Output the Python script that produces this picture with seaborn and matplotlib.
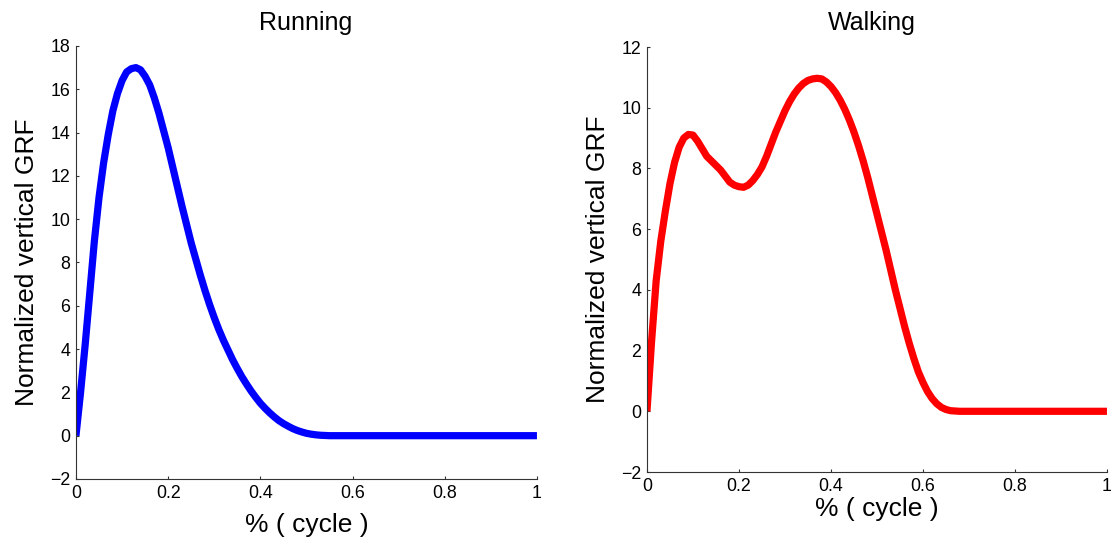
import matplotlib
matplotlib.use("Agg")
import matplotlib.pyplot as plt
import seaborn as sns
import pandas as pd

# Running curve (x = fraction of cycle, y = normalized vertical GRF)
run_x = [0.00, 0.01, 0.02, 0.03, 0.04, 0.05, 0.06, 0.07, 0.08, 0.09, 0.10,
         0.11, 0.12, 0.13, 0.14, 0.15, 0.16, 0.17, 0.18, 0.19, 0.20, 0.21,
         0.22, 0.23, 0.24, 0.25, 0.26, 0.27, 0.28, 0.29, 0.30, 0.31, 0.32,
         0.33, 0.34, 0.35, 0.36, 0.37, 0.38, 0.39, 0.40, 0.41, 0.42, 0.43,
         0.44, 0.45, 0.46, 0.47, 0.48, 0.49, 0.50, 0.51, 0.52, 0.53, 0.55,
         0.60, 0.70, 0.80, 0.90, 1.00]
run_y = [0.0, 2.0, 4.2, 6.6, 9.0, 11.0, 12.6, 13.9, 15.0, 15.8, 16.4,
         16.8, 16.95, 17.0, 16.9, 16.6, 16.2, 15.6, 14.9, 14.1, 13.3, 12.4,
         11.5, 10.6, 9.75, 8.9, 8.15, 7.4, 6.7, 6.05, 5.45, 4.9, 4.4,
         3.95, 3.5, 3.1, 2.72, 2.38, 2.06, 1.77, 1.5, 1.27, 1.06, 0.87,
         0.7, 0.56, 0.44, 0.33, 0.24, 0.17, 0.11, 0.07, 0.04, 0.02, 0.0,
         0.0, 0.0, 0.0, 0.0, 0.0]

# Walking curve
walk_x = [0.00, 0.01, 0.02, 0.03, 0.04, 0.05, 0.06, 0.07, 0.08, 0.09, 0.10,
          0.11, 0.12, 0.13, 0.14, 0.15, 0.16, 0.17, 0.18, 0.19, 0.20, 0.21,
          0.22, 0.23, 0.24, 0.25, 0.26, 0.27, 0.28, 0.29, 0.30, 0.31, 0.32,
          0.33, 0.34, 0.35, 0.36, 0.37, 0.38, 0.39, 0.40, 0.41, 0.42, 0.43,
          0.44, 0.45, 0.46, 0.47, 0.48, 0.49, 0.50, 0.51, 0.52, 0.53, 0.54,
          0.55, 0.56, 0.57, 0.58, 0.59, 0.60, 0.61, 0.62, 0.63, 0.64, 0.65,
          0.66, 0.68, 0.70, 0.80, 0.90, 1.00]
walk_y = [0.0, 2.3, 4.3, 5.6, 6.6, 7.5, 8.2, 8.7, 9.0, 9.12, 9.1,
          8.9, 8.65, 8.4, 8.25, 8.1, 7.95, 7.75, 7.55, 7.45, 7.4, 7.38,
          7.45, 7.6, 7.8, 8.05, 8.4, 8.8, 9.2, 9.55, 9.9, 10.2, 10.45,
          10.65, 10.8, 10.9, 10.95, 10.97, 10.95, 10.85, 10.7, 10.5, 10.25, 9.95,
          9.6, 9.2, 8.75, 8.25, 7.7, 7.1, 6.5, 5.9, 5.3, 4.65, 4.0,
          3.4, 2.8, 2.25, 1.75, 1.3, 0.95, 0.65, 0.42, 0.25, 0.13, 0.06,
          0.02, 0.0, 0.0, 0.0, 0.0, 0.0]

titles = ["Running", "Walking"]
x_ticks = [0, 0.2, 0.4, 0.6, 0.8, 1]
x_ticklabels = ["0", "0.2", "0.4", "0.6", "0.8", "1"]
run_yticks = [-2, 0, 2, 4, 6, 8, 10, 12, 14, 16, 18]
walk_yticks = [-2, 0, 2, 4, 6, 8, 10, 12]

sns.set_style("ticks")
plt.rcParams['font.family'] = ['Liberation Sans', 'DejaVu Sans']

fig = plt.figure(figsize=(11.17, 5.40), dpi=100)
ax1 = fig.add_axes([0.0680, 0.1130, 0.4127, 0.8019])
ax2 = fig.add_axes([0.5792, 0.1259, 0.4118, 0.7870])

df_run = pd.DataFrame({"x": run_x, "y": run_y})
df_walk = pd.DataFrame({"x": walk_x, "y": walk_y})

sns.lineplot(data=df_run, x="x", y="y", ax=ax1, color="#0000ff",
             linewidth=5.2, sort=False, estimator=None,
             solid_capstyle="butt", solid_joinstyle="round")
sns.lineplot(data=df_walk, x="x", y="y", ax=ax2, color="#ff0000",
             linewidth=5.2, sort=False, estimator=None,
             solid_capstyle="butt", solid_joinstyle="round")

settings = [(ax1, titles[0], run_yticks, 8, 11.5, 0.499),
            (ax2, titles[1], walk_yticks, 2, 12.5, 0.489)]
for ax, title, yt, xlpad, tpad, tx in settings:
    ax.set_xlim(0, 1)
    ax.set_ylim(yt[0], yt[-1])
    ax.set_xticks(x_ticks)
    ax.set_xticklabels(x_ticklabels)
    ax.set_yticks(yt)
    ax.set_yticklabels([("\u2212" + str(-v)) if v < 0 else str(v) for v in yt])
    ax.tick_params(direction="in", length=2.5, width=0.8, labelsize=12.8,
                   color="#333333", labelcolor="black", pad=4)
    for s in ["top", "right"]:
        ax.spines[s].set_visible(False)
    for s in ["left", "bottom"]:
        ax.spines[s].set_linewidth(0.8)
        ax.spines[s].set_color("#333333")
    ax.set_xlabel("% ( cycle )", fontsize=19, labelpad=xlpad, color="black")
    ax.set_ylabel("Normalized vertical GRF", fontsize=19, labelpad=8,
                  color="black")
    ax.set_title(title, fontsize=18, pad=tpad, x=tx, color="black")

fig.savefig("out.png", dpi=100, facecolor="white")
